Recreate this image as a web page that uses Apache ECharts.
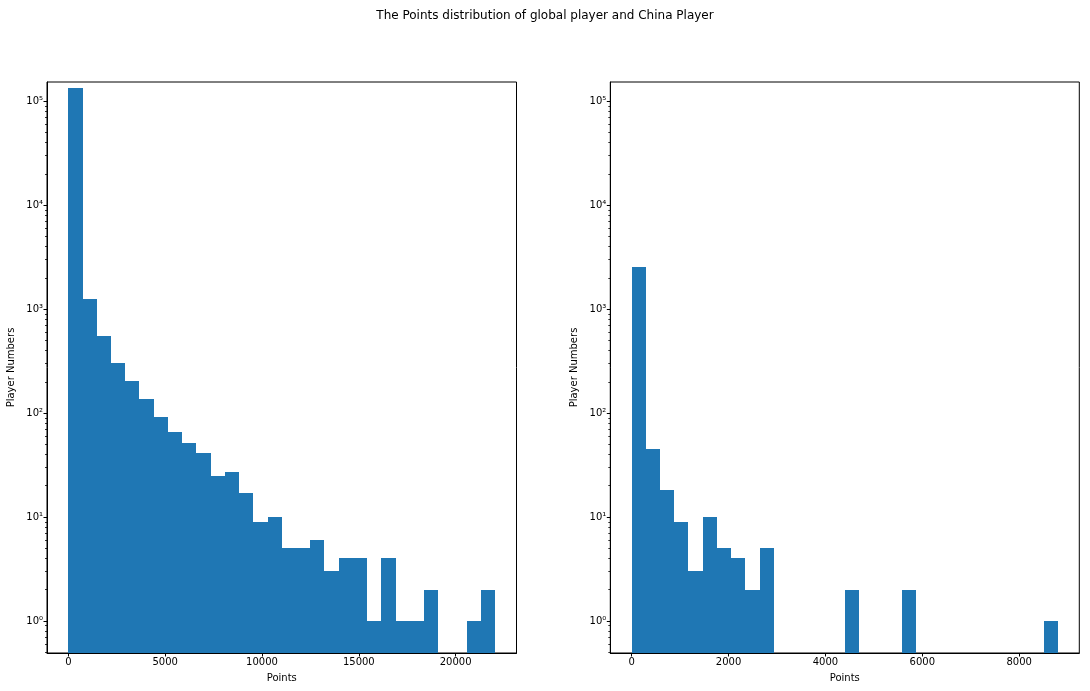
<!DOCTYPE html>
<html>
<head>
<meta charset="utf-8">
<script src="https://cdn.jsdelivr.net/npm/echarts@6/dist/echarts.min.js"></script>
<style>html,body{margin:0;padding:0;background:#fff}#c{width:1090px;height:691px}</style>
</head>
<body>
<div id="c"></div>
<script>
const titleText = 'The Points distribution of global player and China Player';
const xName = 'Points';
const yName = 'Player Numbers';
const globalRange = [0, 22040];
const chinaRange = [0, 8800];
const globalCounts = [133000, 1250, 550, 305, 205, 137, 92, 66, 52, 41, 25, 27, 17, 9, 10, 5, 5, 6, 3, 4, 4, 1, 4, 1, 1, 2, 0, 0, 1, 2];
const chinaCounts = [2530, 45, 18, 9, 3, 10, 5, 4, 2, 5, 0, 0, 0, 0, 0, 2, 0, 0, 0, 2, 0, 0, 0, 0, 0, 0, 0, 0, 0, 1];
const globalXTicks = [0, 5000, 10000, 15000, 20000];
const chinaXTicks = [0, 2000, 4000, 6000, 8000];
const globalXLimits = [-1102, 23142];
const chinaXLimits = [-440, 9240];
const yTicks = [1, 10, 100, 1000, 10000, 100000];
const yTickLabels = ['10\u2070', '10\u00b9', '10\u00b2', '10\u00b3', '10\u2074', '10\u2075'];
const yLimits = [0.492, 153000];

const minorTicks = [];
for (let e = -1; e <= 5; e++) for (let m = 2; m <= 9; m++) {
  const v = m * Math.pow(10, e);
  if (v > yLimits[0] && v < yLimits[1]) minorTicks.push(v);
}

function binData(range, counts) {
  const w = (range[1] - range[0]) / counts.length;
  const out = [];
  counts.forEach((c, i) => { if (c > 0) out.push([range[0] + i * w, range[0] + (i + 1) * w, c]); });
  return out;
}

const font = 'DejaVu Sans';
function renderItem(params, api) {
  const p0 = api.coord([api.value(0), api.value(2)]);
  const p1 = api.coord([api.value(1), yLimits[0]]);
  const x0 = Math.round(p0[0]), x1 = Math.round(p1[0]);
  const y0 = Math.round(p0[1]), y1 = Math.round(p1[1]);
  return {
    type: 'rect',
    shape: { x: x0, y: y0, width: x1 - x0, height: y1 - y0 },
    style: { fill: '#1f77b4', stroke: 'none', lineWidth: 0 }
  };
}

const grids = [
  { left: 47, top: 82, width: 469.5, height: 571 },
  { left: 610.3, top: 82, width: 469, height: 571 }
];

function xAxis(gi, lim, ticks) {
  return {
    type: 'value', gridIndex: gi, min: lim[0], max: lim[1],
    name: xName, nameLocation: 'middle', nameGap: 20,
    nameTextStyle: { fontFamily: font, fontSize: 10, color: '#000' },
    axisLine: { show: true, onZero: false, lineStyle: { color: '#000', width: 1 } },
    axisTick: { show: true, length: 3.5, inside: false, customValues: ticks, lineStyle: { color: '#000' } },
    axisLabel: { customValues: ticks, margin: 4, fontFamily: font, fontSize: 10, color: '#000', formatter: v => String(v) },
    splitLine: { show: false }
  };
}
function yAxisMajor(gi) {
  return {
    type: 'log', gridIndex: gi, min: yLimits[0], max: yLimits[1], logBase: 10, position: 'left',
    name: yName, nameLocation: 'middle', nameGap: 31, nameRotate: 90,
    nameTextStyle: { fontFamily: font, fontSize: 10, color: '#000' },
    axisLine: { show: true, onZero: false, lineStyle: { color: '#000', width: 1 } },
    axisTick: { show: true, length: 3.5, customValues: yTicks, lineStyle: { color: '#000' } },
    axisLabel: {
      customValues: yTicks, margin: 4, fontFamily: font, fontSize: 10, color: '#000',
      formatter: v => { const i = yTicks.findIndex(t => Math.abs(t - v) / t < 1e-6); return i >= 0 ? yTickLabels[i] : ''; }
    },
    splitLine: { show: false }
  };
}
function yAxisMinor(gi) {
  return {
    type: 'log', gridIndex: gi, min: yLimits[0], max: yLimits[1], logBase: 10, position: 'left',
    axisLine: { show: false, onZero: false },
    axisTick: { show: true, length: 2, customValues: minorTicks, lineStyle: { color: '#000', width: 0.8 } },
    axisLabel: { show: false },
    splitLine: { show: false }
  };
}

const chart = echarts.init(document.getElementById('c'));
chart.setOption({
  animation: false,
  backgroundColor: '#fff',
  title: { text: titleText, left: 'center', top: 5, textStyle: { fontFamily: font, fontSize: 12, fontWeight: 'normal', color: '#000' } },
  grid: grids.map(g => Object.assign({ show: true, borderColor: '#000', borderWidth: 1, backgroundColor: 'transparent' }, g)),
  xAxis: [xAxis(0, globalXLimits, globalXTicks), xAxis(1, chinaXLimits, chinaXTicks)],
  yAxis: [yAxisMajor(0), yAxisMajor(1), yAxisMinor(0), yAxisMinor(1)],
  series: [
    { type: 'custom', xAxisIndex: 0, yAxisIndex: 0, renderItem, clip: true, encode: { x: [0, 1], y: 2 }, data: binData(globalRange, globalCounts) },
    { type: 'custom', xAxisIndex: 1, yAxisIndex: 1, renderItem, clip: true, encode: { x: [0, 1], y: 2 }, data: binData(chinaRange, chinaCounts) }
  ]
});
</script>
</body>
</html>
